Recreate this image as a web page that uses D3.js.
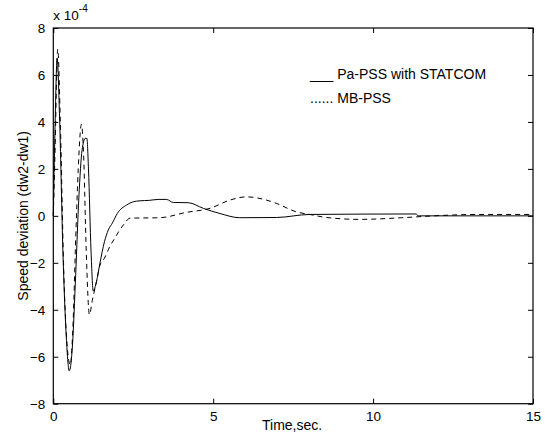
<!DOCTYPE html>
<html>
<head>
<meta charset="utf-8">
<script src="https://cdn.jsdelivr.net/npm/d3@7"></script>
<style>
  body { margin: 0; background: #fff; }
  svg { display: block; font-family: "Liberation Sans", Arial, sans-serif; }
</style>
</head>
<body>
<div id="chart"></div>
<script>
// values in units of 1e-4 (axis label "x 10^-4")
const paTime = [0, 0.05, 0.12, 0.2, 0.3, 0.4, 0.5, 0.6, 0.7, 0.8, 0.9, 1.0, 1.05, 1.1, 1.18, 1.25, 1.35, 1.46, 1.6, 1.72, 1.85, 2.0, 2.29, 2.5, 2.71, 3.0, 3.3, 3.54, 3.75, 4.22, 4.69, 5.21, 5.83, 6.98, 8.02, 11.35, 11.4, 15];
const paSpeed = [0, 3.5, 6.7, 4.0, -1.5, -5.0, -6.6, -5.5, -2.5, 0.8, 2.8, 3.3, 3.3, 2.0, -1.5, -3.2, -2.8, -2.0, -1.1, -0.6, -0.3, 0.1, 0.46, 0.6, 0.64, 0.66, 0.7, 0.7, 0.57, 0.56, 0.32, 0.1, -0.08, -0.07, 0.06, 0.08, 0.0, 0.0];

const mbTime = [0, 0.05, 0.14, 0.22, 0.32, 0.42, 0.53, 0.62, 0.7, 0.78, 0.88, 0.95, 1.03, 1.13, 1.22, 1.35, 1.46, 1.6, 1.77, 1.9, 2.19, 2.4, 3.33, 4.17, 4.9, 5.52, 6.04, 6.56, 6.98, 7.6, 8.02, 8.54, 9.58, 10.9, 11.9, 13.3, 15];
const mbSpeed = [0, 2.5, 7.1, 4.0, -2.0, -5.3, -6.35, -4.5, -1.0, 2.0, 3.9, 2.5, -1.5, -4.2, -3.6, -2.8, -2.1, -1.8, -1.3, -1.0, -0.39, -0.1, -0.08, 0.15, 0.32, 0.67, 0.81, 0.71, 0.53, 0.17, 0.06, -0.07, -0.15, -0.08, 0.0, 0.06, 0.06];

const xTicks = [0, 5, 10, 15];
const yTicks = [-8, -6, -4, -2, 0, 2, 4, 6, 8];
const legendLabels = ["___ Pa-PSS with STATCOM", "...... MB-PSS"];

const width = 545, height = 445;
const margin = { top: 28, right: 12, bottom: 41.3, left: 53.3 };

const svg = d3.select("#chart")
    .append("svg")
    .attr("width", width)
    .attr("height", height);

// Scales
const x = d3.scaleLinear()
    .domain([0, 15])
    .range([margin.left, width - margin.right]);

const y = d3.scaleLinear()
    .domain([-8, 8])
    .range([height - margin.bottom, margin.top]);

// Axes, ticks inward on all four sides (matlab box)
const tickLen = 5;
svg.append("g")
    .attr("transform", `translate(0,${height - margin.bottom})`)
    .call(d3.axisBottom(x).tickValues(xTicks).tickSizeInner(-tickLen).tickSizeOuter(0).tickPadding(8))
    .call(g => g.select(".domain").remove());

svg.append("g")
    .attr("transform", `translate(0,${margin.top})`)
    .call(d3.axisTop(x).tickValues(xTicks).tickSizeInner(-tickLen).tickSizeOuter(0).tickFormat(""))
    .call(g => g.select(".domain").remove());

svg.append("g")
    .attr("transform", `translate(${margin.left},0)`)
    .call(d3.axisLeft(y).tickValues(yTicks).tickSizeInner(-tickLen).tickSizeOuter(0).tickPadding(8))
    .call(g => g.select(".domain").remove());

svg.append("g")
    .attr("transform", `translate(${width - margin.right},0)`)
    .call(d3.axisRight(y).tickValues(yTicks).tickSizeInner(-tickLen).tickSizeOuter(0).tickFormat(""))
    .call(g => g.select(".domain").remove());

svg.selectAll(".tick line").attr("stroke", "#000");
svg.selectAll(".tick text")
    .attr("fill", "#000")
    .style("font-size", "13.5px")
    .style("font-family", "Liberation Sans, Arial, sans-serif");

// box
svg.append("rect")
    .attr("x", x(0))
    .attr("y", y(8))
    .attr("width", x(15) - x(0))
    .attr("height", y(-8) - y(8))
    .attr("fill", "none")
    .attr("stroke", "#000")
    .attr("stroke-width", 1.2);

// Lines
const line = d3.line()
    .x(d => x(d[0]))
    .y(d => y(d[1]))
    .curve(d3.curveMonotoneX);

svg.append("path")
    .datum(d3.zip(mbTime, mbSpeed))
    .attr("fill", "none")
    .attr("stroke", "#000")
    .attr("stroke-width", 1)
    .attr("stroke-dasharray", "5,4")
    .attr("d", line);

svg.append("path")
    .datum(d3.zip(paTime, paSpeed))
    .attr("fill", "none")
    .attr("stroke", "#000")
    .attr("stroke-width", 1)
    .attr("d", line);

// exponent label
const expo = svg.append("text")
    .attr("x", x(0))
    .attr("y", 20)
    .attr("fill", "#000")
    .style("font-size", "13.5px")
    .text("x 10");
expo.append("tspan")
    .attr("dy", -8)
    .style("font-size", "10px")
    .text("-4");

// axis labels
svg.append("text")
    .attr("x", 262)
    .attr("y", 430)
    .attr("fill", "#000")
    .style("font-size", "14px")
    .text("Time,sec.");

svg.append("text")
    .attr("transform", `translate(28,${(y(8) + y(-8)) / 2}) rotate(-90)`)
    .attr("text-anchor", "middle")
    .attr("fill", "#000")
    .style("font-size", "14px")
    .text("Speed deviation (dw2-dw1)");

// Legend
legendLabels.forEach((label, i) => {
    svg.append("text")
        .attr("x", 310)
        .attr("y", 79 + i * 23.5)
        .attr("fill", "#000")
        .style("font-size", "14px")
        .text(label);
});
</script>
</body>
</html>
